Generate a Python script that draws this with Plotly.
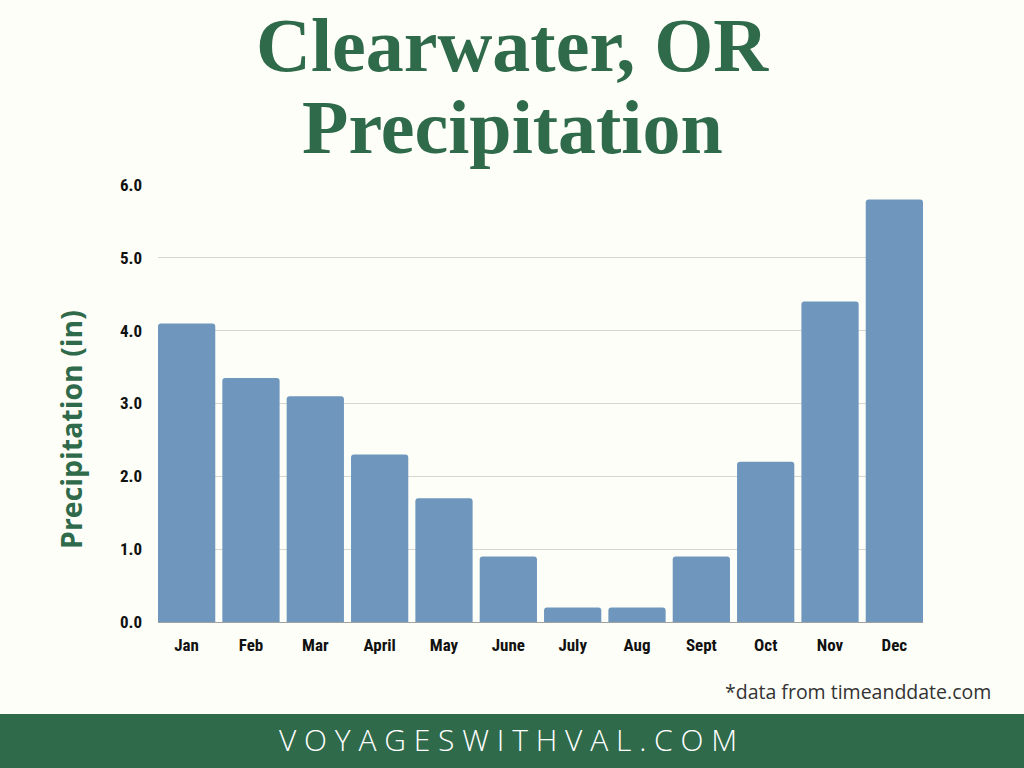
import plotly.graph_objects as go

months = ["Jan", "Feb", "Mar", "April", "May", "June", "July", "Aug", "Sept", "Oct", "Nov", "Dec"]
precip_in = [4.1, 3.35, 3.1, 2.3, 1.7, 0.9, 0.2, 0.2, 0.9, 2.2, 4.4, 5.8]
y_ticks = [0, 1, 2, 3, 4, 5, 6]
y_tick_labels = ["0.0", "1.0", "2.0", "3.0", "4.0", "5.0", "6.0"]

GREEN = "#2f6a4b"
BAR = "#6f96bd"
BG = "#fdfef7"

W, H = 1024, 768
L, R, T, B = 158, 101, 185, 146
pw, ph = W - L - R, H - T - B
GAP = 0.11

def px(x):
    return (x - L) / pw

def py(y):
    return (H - B - y) / ph

fig = go.Figure(go.Bar(
    x=months, y=precip_in,
    marker=dict(color=BAR, cornerradius=3, line=dict(width=0)),
))

tick_font = dict(family="Roboto Condensed, Roboto, sans-serif", size=17, color="#111111", weight="bold")

fig.update_layout(
    width=W, height=H,
    margin=dict(l=L, r=R, t=T, b=B, autoexpand=False),
    paper_bgcolor=BG, plot_bgcolor=BG,
    bargap=GAP,
    showlegend=False,
    xaxis=dict(
        type="category", range=[-0.5 + GAP / 2, len(months) - 0.5 - GAP / 2],
        tickfont=tick_font, showgrid=False, showline=True, linecolor="#a0a0a0", linewidth=1,
        ticks="", ticklabelstandoff=8,
    ),
    yaxis=dict(
        range=[0, 6], tickvals=y_ticks, ticktext=y_tick_labels, tickfont=tick_font,
        showgrid=True, gridcolor="#d6d6d2", gridwidth=1, zeroline=False,
        ticks="", ticklabelstandoff=15,
    ),
    shapes=[dict(type="rect", xref="paper", yref="paper",
                 x0=px(-10), x1=px(W + 10), y0=py(H + 10), y1=py(714),
                 fillcolor=GREEN, line=dict(width=0), layer="above")],
    annotations=[
        dict(text="<b>Clearwater, OR</b>", x=px(512), y=py(45), xref="paper", yref="paper",
             showarrow=False, xanchor="center", yanchor="middle",
             font=dict(family="Liberation Serif, DejaVu Serif, serif", size=76, color=GREEN)),
        dict(text="<b>Precipitation</b>", x=px(512), y=py(127), xref="paper", yref="paper",
             showarrow=False, xanchor="center", yanchor="middle",
             font=dict(family="Liberation Serif, DejaVu Serif, serif", size=76, color=GREEN)),
        dict(text="<b>Precipitation (in)</b>", x=px(71), y=py(430), xref="paper", yref="paper",
             showarrow=False, textangle=-90, xanchor="center", yanchor="middle",
             font=dict(family="Open Sans, sans-serif", size=28.5, color=GREEN)),
        dict(text="*data from timeanddate.com", x=px(993), y=py(691), xref="paper", yref="paper",
             showarrow=False, xanchor="right", yanchor="middle",
             font=dict(family="Open Sans, sans-serif", size=19.5, color="#333333")),
        dict(text="V O Y A G E S W I T H V A L . C O M", x=px(508), y=py(739), xref="paper", yref="paper",
             showarrow=False, xanchor="center", yanchor="middle",
             font=dict(family="Open Sans, sans-serif", size=30, color="#ffffff", weight=300)),
    ],
)

fig.write_html("out.html", config={"displayModeBar": False},
               post_script="document.body.style.margin='0';document.body.style.overflow='hidden';")
